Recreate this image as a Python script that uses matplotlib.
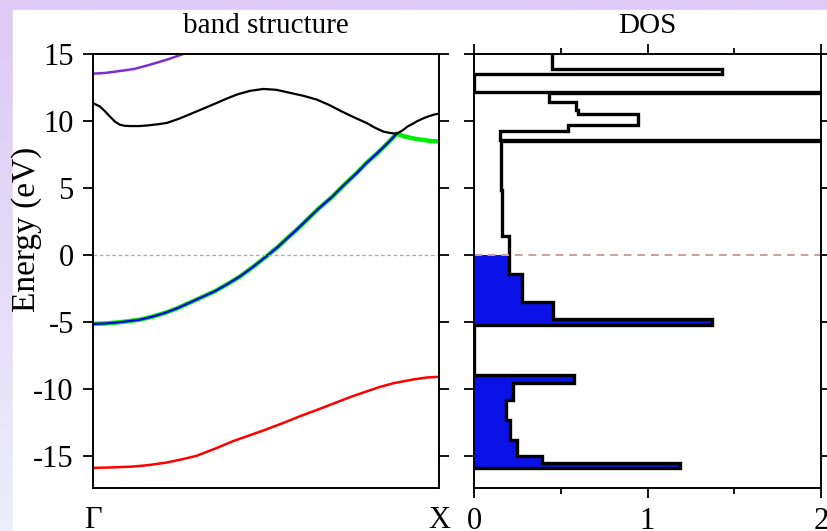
import numpy as np
import matplotlib
matplotlib.use("Agg")
import matplotlib.pyplot as plt
from matplotlib.patches import Rectangle

plt.rcParams["font.family"] = ["Liberation Serif", "DejaVu Serif"]
plt.rcParams["axes.unicode_minus"] = False

# band structure, k as fraction of the Gamma-X path
k_up = [0, 0.021, 0.035, 0.05, 0.065, 0.079, 0.093, 0.108, 0.135, 0.16, 0.19,
        0.214, 0.25, 0.29, 0.325, 0.358, 0.39, 0.42, 0.455, 0.493, 0.53, 0.57,
        0.61, 0.647, 0.685, 0.72, 0.755, 0.791, 0.815, 0.84, 0.86, 0.878,
        0.895, 0.91, 0.925, 0.936, 0.955, 0.97, 0.985, 1.0]
e_up = [11.34, 11.09, 10.75, 10.34, 9.95, 9.72, 9.64, 9.62, 9.62, 9.67, 9.76,
        9.85, 10.17, 10.6, 10.98, 11.34, 11.7, 12.0, 12.25, 12.39, 12.33, 12.1,
        11.87, 11.6, 11.17, 10.7, 10.27, 9.85, 9.5, 9.2, 9.1, 9.05,
        9.3, 9.6, 9.8, 9.97, 10.2, 10.35, 10.47, 10.55]

k_low = [0, 0.035, 0.068, 0.1, 0.137, 0.17, 0.209, 0.245, 0.28, 0.315, 0.354,
         0.39, 0.426, 0.465, 0.507, 0.535, 0.56, 0.59, 0.618, 0.65, 0.69, 0.725,
         0.762, 0.79, 0.82, 0.85, 0.878, 0.9, 0.92, 0.936, 0.96, 0.98, 1.0]
e_low = [-5.15, -5.12, -5.05, -4.96, -4.83, -4.63, -4.33, -3.98, -3.57, -3.16,
         -2.7, -2.17, -1.6, -0.86, 0.0, 0.6, 1.2, 1.9, 2.6, 3.4, 4.3, 5.2,
         6.1, 6.85, 7.55, 8.3, 9.05, 8.85, 8.73, 8.65, 8.56, 8.5, 8.48]
n_blue = 27  # blue weight ends at the crossing

k_red = [0, 0.05, 0.117, 0.165, 0.214, 0.26, 0.3, 0.355, 0.406, 0.45, 0.5,
         0.55, 0.599, 0.65, 0.7, 0.745, 0.79, 0.83, 0.87, 0.925, 0.965, 1.0]
e_red = [-15.9, -15.87, -15.8, -15.68, -15.5, -15.25, -15.0, -14.45, -13.9,
         -13.5, -13.04, -12.55, -12.04, -11.55, -11.05, -10.6, -10.2, -9.85,
         -9.57, -9.3, -9.15, -9.1]

k_pur = [0, 0.035, 0.07, 0.12, 0.166, 0.215, 0.262, 0.31]
e_pur = [13.53, 13.58, 13.7, 13.88, 14.2, 14.58, 15.0, 15.45]

# density of states (steps)
dos_edges = [-15.9, -15.57, -15.03, -13.78, -12.34, -10.8, -9.55, -8.98, -5.2,
             -4.75, -3.5, -1.4, 0.0, 1.44, 4.87, 8.5, 8.6, 9.22, 9.72, 10.54,
             10.84, 11.39, 12.09, 12.2, 13.53, 13.9, 15.5]
dos_values = [1.19, 0.39, 0.246, 0.205, 0.185, 0.227, 0.577, 0.0, 1.37, 0.457,
              0.278, 0.2, 0.2, 0.163, 0.155, 3.0, 0.15, 0.54, 0.946, 0.6,
              0.587, 0.43, 3.0, 0.0, 1.43, 0.45]
n_occ = 12  # bins below the Fermi level

e_ticks = [-15, -10, -5, 0, 5, 10, 15]

fig = plt.figure(figsize=(8.27, 5.31), dpi=100)

# background: purple border behind a white sheet
bg = fig.add_axes([0, 0, 1, 1], zorder=-10)
grad = np.linspace(0, 1, 256)[:, None]
top_c = np.array([221, 201, 245]) / 255
bot_c = np.array([236, 238, 250]) / 255
img = top_c[None, None, :] * (1 - grad[:, :, None]) + bot_c[None, None, :] * grad[:, :, None]
bg.imshow(img, aspect="auto", extent=[0, 1, 0, 1])
bg.add_patch(Rectangle((13 / 827, 0), 1, 1 - 10 / 531, color="white"))
bg.set_xlim(0, 1)
bg.set_ylim(0, 1)
bg.axis("off")

ax1 = fig.add_axes([92.5 / 827, 1 - 488 / 531, 346.5 / 827, 434 / 531])
ax2 = fig.add_axes([474 / 827, 1 - 488 / 531, 347 / 827, 434 / 531])

fermi_c = "#c9a0a0"

ax1.plot(k_low, e_low, color="#00ee00", lw=3.2, solid_capstyle="butt")
ax1.plot(k_low[:n_blue], e_low[:n_blue], color="#0000ee", lw=1.6)
ax1.plot(k_up, e_up, color="black", lw=1.6)
ax1.plot(k_red, e_red, color="#ff0000", lw=1.8)
ax1.plot(k_pur, e_pur, color="#7a2fd6", lw=1.8)
ax1.axhline(0, color=fermi_c, lw=0.9, ls=(0, (3, 2)))

ax1.set_xlim(0, 1)
ax1.set_ylim(-17.4, 15)
ax1.set_xticks([0, 1])
ax1.set_xticklabels(["Γ", "X"])
ax1.set_yticks(e_ticks)
ax1.tick_params(axis="x", length=0, pad=13, labelsize=22)
ax1.tick_params(axis="y", direction="out", length=7.5, width=1.3, pad=6,
                labelsize=22, right=True)
ax1.set_ylabel("Energy (eV)", fontsize=24)
ax1.yaxis.set_label_coords(-0.146, 0.597)
ax1.set_title("band structure", fontsize=21, pad=15)

ax2.stairs(dos_values[:n_occ], dos_edges[:n_occ + 1], orientation="horizontal",
           baseline=0, fill=True, color="#0a12e8", lw=0)
ax2.stairs(dos_values, dos_edges, orientation="horizontal", baseline=0,
           color="black", lw=2.4)
ax2.axhline(0, color=fermi_c, lw=1.4, ls=(0, (4, 3)))

ax2.set_xlim(0, 2)
ax2.set_ylim(-17.4, 15)
ax2.set_xticks([0, 1, 2])
ax2.set_xticks([0.5, 1.5], minor=True)
ax2.set_yticks(e_ticks)
ax2.set_yticklabels([])
ax2.tick_params(axis="x", which="major", direction="out", length=7.5, width=1.3,
                pad=6, labelsize=22, top=True)
ax2.tick_params(axis="x", which="minor", direction="out", length=4.5, width=1.3,
                top=True)
ax2.tick_params(axis="y", direction="out", length=7.5, width=1.3, right=True)
ax2.set_title("DOS", fontsize=21, pad=15)

for ax in (ax1, ax2):
    for sp in ax.spines.values():
        sp.set_linewidth(1.4)

fig.savefig("out.png", dpi=100)
